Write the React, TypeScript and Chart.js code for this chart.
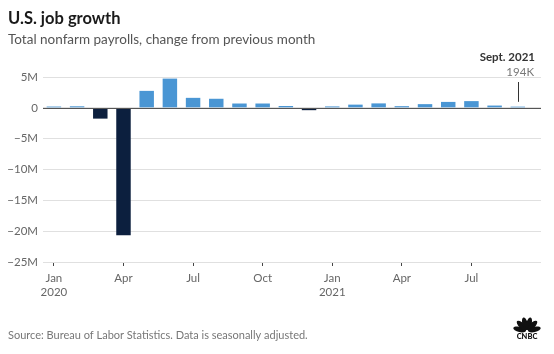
import React, { useEffect, useRef } from "react";
import { Chart, registerables } from "chart.js";

Chart.register(...registerables);

const monthLabels = [
  "Jan 2020", "Feb 2020", "Mar 2020", "Apr 2020", "May 2020", "Jun 2020",
  "Jul 2020", "Aug 2020", "Sep 2020", "Oct 2020", "Nov 2020", "Dec 2020",
  "Jan 2021", "Feb 2021", "Mar 2021", "Apr 2021", "May 2021", "Jun 2021",
  "Jul 2021", "Aug 2021", "Sep 2021",
];
// change in nonfarm payrolls, millions
const payrollChange = [
  0.21, 0.25, -1.75, -20.68, 2.75, 4.74, 1.62, 1.47, 0.70, 0.70, 0.30,
  -0.38, 0.23, 0.52, 0.72, 0.27, 0.60, 0.96, 1.09, 0.37, 0.194,
];
const tickIndexes = [0, 3, 6, 9, 12, 15, 18];
const tickLabels = [["Jan", "2020"], ["Apr"], ["Jul"], ["Oct"], ["Jan", "2021"], ["Apr"], ["Jul"]];
const yTicks = [5, 0, -5, -10, -15, -20, -25];
const yTickLabels = ["5M", "0", "\u22125M", "\u221210M", "\u221215M", "\u221220M", "\u221225M"];

const title = "U.S. job growth";
const subtitle = "Total nonfarm payrolls, change from previous month";
const source = "Source: Bureau of Labor Statistics. Data is seasonally adjusted.";
const calloutTitle = "Sept. 2021";
const calloutValue = "194K";

const FONT = "Lato, 'Open Sans', sans-serif";
const BLUE = "#4a96d4";
const NAVY = "#0c1f3e";

const textPlugin = {
  id: "texts",
  afterDraw(chart: any) {
    const ctx = chart.ctx as CanvasRenderingContext2D;
    ctx.save();
    ctx.textBaseline = "alphabetic";
    ctx.textAlign = "left";
    ctx.fillStyle = "#1a1a1a";
    ctx.font = `bold 16.5px ${FONT}`;
    ctx.fillText(title, 8, 24);
    ctx.fillStyle = "#555";
    ctx.font = `13.5px ${FONT}`;
    ctx.fillText(subtitle, 8, 44);
    ctx.fillStyle = "#777";
    ctx.font = `11px ${FONT}`;
    ctx.fillText(source, 8, 339);

    // callout
    const xs = chart.scales.x;
    const ys = chart.scales.y;
    const px = Math.round(xs.getPixelForValue(payrollChange.length - 1)) + 0.5;
    ctx.textAlign = "right";
    ctx.fillStyle = "#333";
    ctx.font = `bold 11.5px ${FONT}`;
    ctx.fillText(calloutTitle, 535, 61);
    ctx.fillStyle = "#777";
    ctx.font = `11.5px ${FONT}`;
    ctx.fillText(calloutValue, 534, 76);
    ctx.strokeStyle = "#333";
    ctx.lineWidth = 1;
    ctx.beginPath();
    ctx.moveTo(px, 82);
    ctx.lineTo(px, ys.getPixelForValue(0) - 6);
    ctx.stroke();

    // zero line on top
    const y0 = Math.round(ys.getPixelForValue(0)) + 0.5;
    ctx.strokeStyle = "#555";
    ctx.beginPath();
    ctx.moveTo(chart.chartArea.left, y0);
    ctx.lineTo(chart.chartArea.right, y0);
    ctx.stroke();

    // CNBC peacock logo (simplified)
    const cx = 527, cy = 331;
    ctx.fillStyle = "#111";
    const angles = [-168, -135, -105, -75, -45, -12];
    for (const a of angles) {
      const r = (a * Math.PI) / 180;
      ctx.save();
      ctx.translate(cx + Math.cos(r) * 7.5, cy + Math.sin(r) * 7.5);
      ctx.rotate(r + Math.PI / 2);
      ctx.beginPath();
      ctx.ellipse(0, 0, 2.7, 6.5, 0, 0, Math.PI * 2);
      ctx.fill();
      ctx.restore();
    }
    ctx.textAlign = "center";
    ctx.font = `900 7.5px ${FONT}`;
    ctx.fillText("CNBC", cx, 339);
    ctx.restore();
  },
};

export default function App() {
  const ref = useRef<HTMLCanvasElement | null>(null);
  useEffect(() => {
    if (!ref.current) return;
    const chart = new Chart(ref.current, {
      type: "bar",
      data: {
        datasets: [
          {
            label: "Payrolls",
            data: payrollChange.map((v, i) => ({ x: i, y: v })),
            backgroundColor: payrollChange.map((v) => (v < 0 ? NAVY : BLUE)),
            borderWidth: 0,
            barPercentage: 0.78,
            categoryPercentage: 0.8,
          },
        ],
      },
      options: {
        animation: false,
        responsive: false,
        devicePixelRatio: 1,
        layout: { padding: { top: 77, right: 13, left: 0, bottom: 0 } },
        plugins: { legend: { display: false }, tooltip: { enabled: false } },
        scales: {
          x: {
            type: "linear",
            min: -0.47,
            max: 21.0,
            offset: false,
            afterBuildTicks: (scale: any) => {
              scale.ticks = tickIndexes.map((v) => ({ value: v }));
            },
            afterFit: (scale: any) => {
              scale.height = 92;
            },
            grid: {
              display: true,
              drawOnChartArea: false,
              drawTicks: true,
              tickLength: 4,
              tickColor: "#444",
              offset: false,
            },
            border: { display: false },
            ticks: {
              autoSkip: false,
              maxRotation: 0,
              padding: 5,
              color: "#666",
              font: { family: FONT, size: 11.5, lineHeight: 1.25 },
              callback: (v: any) => {
                const idx = tickIndexes.indexOf(Number(v));
                return idx >= 0 ? tickLabels[idx] : "";
              },
            },
          },
          y: {
            min: -25,
            max: 5,
            afterBuildTicks: (scale: any) => {
              scale.ticks = yTicks.map((v) => ({ value: v }));
            },
            afterFit: (scale: any) => {
              scale.width = 43;
            },
            grid: {
              color: "#e0e0e0",
              drawTicks: false,
            },
            border: { display: false },
            ticks: {
              padding: 5,
              color: "#666",
              font: { family: FONT, size: 11.5 },
              callback: (v: any) => {
                const idx = yTicks.indexOf(Number(v));
                return idx >= 0 ? yTickLabels[idx] : "";
              },
            },
          },
        },
      },
      plugins: [textPlugin],
    } as any);
    return () => chart.destroy();
  }, []);
  return (
    <div style={{ position: "fixed", left: 0, top: 0, width: 554, height: 354, background: "#fff" }}>
      <canvas ref={ref} width={554} height={354} style={{ width: 554, height: 354 }} />
    </div>
  );
}
